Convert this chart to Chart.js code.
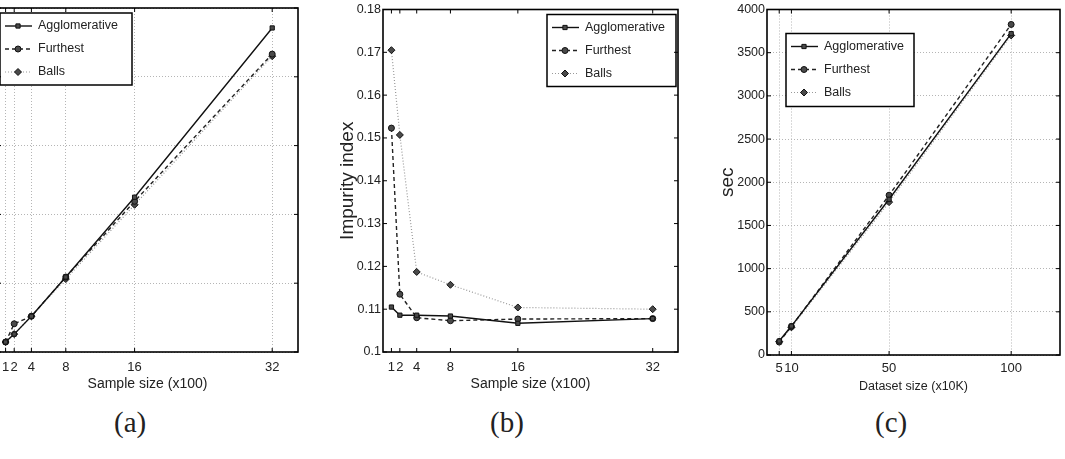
<!DOCTYPE html>
<html>
<head>
<meta charset="utf-8">
<script src="https://cdn.jsdelivr.net/npm/chart.js@4/dist/chart.umd.min.js"></script>
<style>
  body { margin: 0; width: 1065px; height: 459px; background: #fff; overflow: hidden; position: relative; }
  canvas { position: absolute; top: 0; }
  .cap { position: absolute; top: 406px; font-family: "Liberation Serif", "DejaVu Serif", serif; font-size: 29px; color: #222; line-height: 1.15; }
</style>
</head>
<body>
<canvas id="chartA" width="360" height="400" style="left:-50px"></canvas>
<canvas id="chartB" width="360" height="400" style="left:330px"></canvas>
<canvas id="chartC" width="353" height="400" style="left:712px"></canvas>
<div class="cap" style="left:114px">(a)</div>
<div class="cap" style="left:490px">(b)</div>
<div class="cap" style="left:875px">(c)</div>
<script>
const legendNames = ['Agglomerative', 'Furthest', 'Balls'];

// (a) and (b) share the x positions
const sampleSizes = [1, 2, 4, 8, 16, 32];
// (c)
const datasetSizes = [5, 10, 50, 100];

// (a) y axis is cropped off, values on a 0..50 scale
const timeAgglo = [1.45, 2.6, 5.2, 10.9, 22.5, 47.1];
const timeFurthest = [1.45, 4.1, 5.2, 10.9, 21.9, 43.3];
const timeBalls = [1.45, 2.6, 5.2, 10.6, 21.4, 43.0];

// (b) impurity index
const impAgglo = [0.1105, 0.1086, 0.1086, 0.1084, 0.1067, 0.1078];
const impFurthest = [0.1523, 0.1135, 0.1080, 0.1073, 0.1077, 0.1078];
const impBalls = [0.1705, 0.1507, 0.1187, 0.1157, 0.1104, 0.1100];

// (c) seconds
const secAgglo = [162, 335, 1803, 3720];
const secFurthest = [150, 330, 1850, 3827];
const secBalls = [155, 320, 1770, 3700];

const SANS = '"Liberation Sans", Arial, sans-serif';

const lineStyles = [
  { borderColor: '#111', borderWidth: 1.4, borderDash: [], pointStyle: 'rect', pointRadius: 3 },
  { borderColor: '#222', borderWidth: 1.4, borderDash: [4, 3], pointStyle: 'circle', pointRadius: 3 },
  { borderColor: '#999', borderWidth: 1.2, borderDash: [1, 2], pointStyle: 'rectRot', pointRadius: 3.5 },
];

function toPoints(xs, ys) {
  return xs.map((x, i) => ({ x: x, y: ys[i] }));
}

function makeDatasets(xs, seriesList) {
  return seriesList.map((ys, i) => ({
    label: legendNames[i],
    data: toPoints(xs, ys),
    ...lineStyles[i],
    pointBackgroundColor: '#4a4a4a',
    pointBorderColor: '#111',
    pointBorderWidth: 1,
    tension: 0,
    fill: false,
  }));
}

// legend box drawn inside the plot, matlab style
const boxLegend = {
  id: 'boxLegend',
  afterDatasetsDraw(chart, args, opts) {
    const { ctx, chartArea } = chart;
    const bx = chartArea.left + opts.dx;
    const by = chartArea.top + opts.dy;
    ctx.save();
    ctx.fillStyle = '#fff';
    ctx.fillRect(bx, by, opts.w, opts.h);
    ctx.lineWidth = 1.5;
    ctx.strokeStyle = '#000';
    ctx.strokeRect(bx, by, opts.w, opts.h);
    chart.data.datasets.forEach((ds, i) => {
      const y = by + 13 + i * 23;
      ctx.strokeStyle = ds.borderColor;
      ctx.lineWidth = ds.borderWidth;
      ctx.setLineDash(ds.borderDash);
      ctx.beginPath();
      ctx.moveTo(bx + 5, y);
      ctx.lineTo(bx + 32, y);
      ctx.stroke();
      ctx.setLineDash([]);
      ctx.fillStyle = ds.pointBackgroundColor;
      ctx.strokeStyle = ds.pointBorderColor;
      ctx.lineWidth = 1;
      Chart.helpers.drawPoint(ctx, { pointStyle: ds.pointStyle, radius: ds.pointRadius, borderWidth: 1, rotation: 0 }, bx + 18, y);
      ctx.fillStyle = '#222';
      ctx.font = '12.5px ' + SANS;
      ctx.textBaseline = 'middle';
      ctx.fillText(ds.label, bx + 38, y);
    });
    ctx.restore();
  }
};

// box round the plot plus inward tick marks
const frame = {
  id: 'frame',
  afterDraw(chart) {
    const { ctx, chartArea: a, scales } = chart;
    ctx.save();
    ctx.strokeStyle = '#000';
    ctx.lineWidth = 1;
    ctx.beginPath();
    scales.x.ticks.forEach(t => {
      const px = scales.x.getPixelForValue(t.value);
      ctx.moveTo(px, a.bottom); ctx.lineTo(px, a.bottom - 4);
      ctx.moveTo(px, a.top); ctx.lineTo(px, a.top + 4);
    });
    scales.y.ticks.forEach(t => {
      const py = scales.y.getPixelForValue(t.value);
      ctx.moveTo(a.left, py); ctx.lineTo(a.left + 4, py);
      ctx.moveTo(a.right, py); ctx.lineTo(a.right - 4, py);
    });
    ctx.stroke();
    ctx.lineWidth = 1.6;
    ctx.strokeRect(a.left, a.top, a.width, a.height);
    ctx.restore();
  }
};

function buildChart(id, cfg) {
  return new Chart(document.getElementById(id), {
    type: 'line',
    data: { datasets: makeDatasets(cfg.xs, cfg.series) },
    options: {
      responsive: false,
      animation: false,
      layout: { padding: cfg.padding },
      plugins: {
        legend: { display: false },
        tooltip: { enabled: false },
        boxLegend: cfg.legend,
      },
      scales: {
        x: {
          type: 'linear',
          min: cfg.xMin,
          max: cfg.xMax,
          afterBuildTicks: s => { s.ticks = cfg.xs.map(v => ({ value: v })); },
          afterFit: s => { s.height = cfg.xHeight; },
          grid: { display: cfg.grid, color: '#b5b5b5', drawTicks: false },
          border: { display: false, dash: [1, 2] },
          ticks: { autoSkip: false, maxRotation: 0, padding: cfg.xTickPad, color: '#222', font: { family: SANS, size: 13 } },
          title: { display: true, text: cfg.xTitle, color: '#222', font: { family: SANS, size: cfg.xTitleSize }, padding: { top: 0, bottom: cfg.xTitlePad } },
        },
        y: {
          min: cfg.yMin,
          max: cfg.yMax,
          afterFit: s => { s.width = cfg.yWidth; },
          grid: { display: cfg.grid, color: '#b5b5b5', drawTicks: false },
          border: { display: false, dash: [1, 2] },
          ticks: { display: cfg.yLabels, stepSize: cfg.yStep, padding: 2, color: '#222', font: { family: SANS, size: 12.5 }, callback: v => String(v) },
          title: { display: !!cfg.yTitle, text: cfg.yTitle, color: '#222', font: { family: SANS, size: 19 }, padding: { top: cfg.yTitlePad, bottom: 0 } },
        },
      },
    },
    plugins: [boxLegend, frame],
  });
}

buildChart('chartA', {
  xs: sampleSizes, series: [timeAgglo, timeFurthest, timeBalls],
  xMin: 0, xMax: 35, yMin: 0, yMax: 50, yStep: 10, yLabels: false, yWidth: 47,
  padding: { left: 0, right: 12, top: 8, bottom: 0 },
  xHeight: 48, xTickPad: 8, xTitle: 'Sample size (x100)', xTitleSize: 14, xTitlePad: 7,
  grid: true, legend: { dx: 3, dy: 5, w: 132, h: 72 },
});

buildChart('chartB', {
  xs: sampleSizes, series: [impAgglo, impFurthest, impBalls],
  xMin: 0, xMax: 35, yMin: 0.1, yMax: 0.18, yStep: 0.01, yLabels: true, yWidth: 53,
  yTitle: 'Impurity index', yTitlePad: 6,
  padding: { left: 0, right: 12, top: 8, bottom: 0 },
  xHeight: 48, xTickPad: 8, xTitle: 'Sample size (x100)', xTitleSize: 14, xTitlePad: 7,
  grid: false, legend: { dx: 164, dy: 5, w: 129, h: 72 },
});

buildChart('chartC', {
  xs: datasetSizes, series: [secAgglo, secFurthest, secBalls],
  xMin: 0, xMax: 120, yMin: 0, yMax: 4000, yStep: 500, yLabels: true, yWidth: 55,
  yTitle: 'sec', yTitlePad: 4,
  padding: { left: 0, right: 5, top: 9, bottom: 0 },
  xHeight: 45, xTickPad: 6, xTitle: 'Dataset size (x10K)', xTitleSize: 12.5, xTitlePad: 6,
  grid: true, legend: { dx: 19, dy: 24, w: 128, h: 73 },
});
</script>
</body>
</html>
